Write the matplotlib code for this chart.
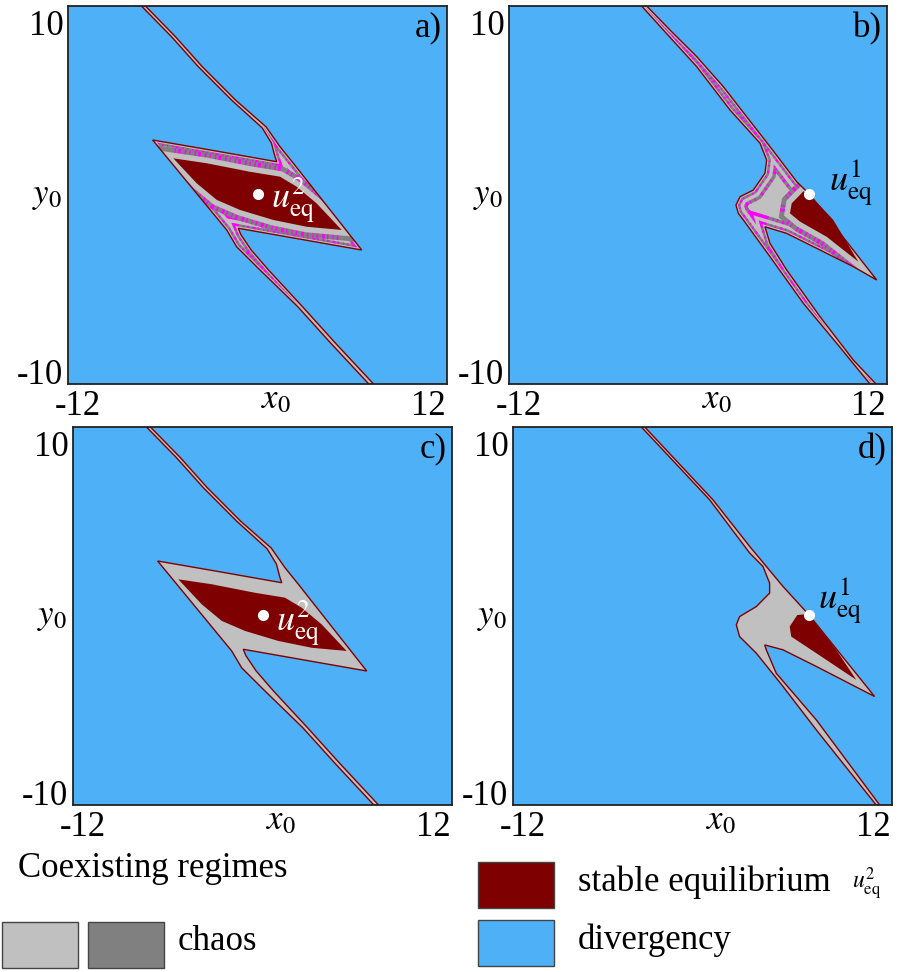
import numpy as np
import matplotlib
matplotlib.use('Agg')
import matplotlib.pyplot as plt
from matplotlib.patches import Polygon, Rectangle

plt.rcParams['font.family'] = 'Liberation Serif'
plt.rcParams['mathtext.fontset'] = 'stix'
plt.rcParams['lines.scale_dashes'] = False

BLUE = '#4EB1F7'
DRED = '#7F0000'
LGREY = '#C0C0C0'
DGREY = '#808080'
MAGENTA = '#FF00FF'

# basin of coexisting regimes around u_eq^2 (panels a and c), (x0, y0)
z_outer_x = [-6.64, -2.71, 1.22, 1.10, 0.88, 0.30, -1.65, -3.75, -5.45, -7.35,
             -7.10, -5.20, -3.50, -1.40, 0.55, 1.42, 2.27, 6.60, -1.22, -1.05,
             -0.40, 0.70, 2.85, 4.95, 7.35, 7.05, 4.65, 2.55, 0.16, -1.32, -1.95]
z_outer_y = [2.91, 2.34, 1.76, 2.05, 2.75, 3.55, 5.03, 6.79, 8.38, 10.0,
             10.0, 8.38, 6.79, 5.03, 3.60, 2.56, 1.68, -2.91, -1.76, -2.10,
             -2.91, -3.97, -5.91, -7.85, -10.0, -10.0, -7.85, -5.91, -3.97, -2.74, -1.85]
# basin of stable equilibrium u_eq^2
z_core_x = [-5.33, -3.22, -0.48, 1.42, 2.48, 3.74, 5.33, 3.11, 1.00, -1.11, -2.58, -3.85]
z_core_y = [1.94, 1.68, 1.23, 0.97, 0.44, -0.44, -1.85, -1.68, -1.32, -0.79, -0.26, 0.62]
eq2 = (0.0, 0.05)

# basin of coexisting regimes around u_eq^1 (panel b)
b_outer_x = [-3.58, -3.26, -1.78, -0.08, 1.61, 3.09, 4.57, 6.27, 7.07, 11.35,
             9.86, 7.75, 5.63, 4.25, 4.57, 5.63, 7.75, 9.86, 11.30, 10.92,
             8.81, 6.69, 4.57, 2.88, 2.56, 2.41, 2.67, 3.51, 4.25, 4.36,
             3.94, 2.03, -0.08, -2.20]
b_outer_y = [10.0, 10.0, 8.73, 7.32, 5.73, 4.14, 2.56, 0.70, 0.05, -4.50,
             -3.79, -2.91, -2.03, -1.68, -2.56, -3.97, -6.44, -8.73, -10.0, -10.0,
             -7.85, -5.73, -3.26, -1.32, -0.97, -0.53, -0.09, 0.26, 1.15, 1.85,
             2.74, 4.50, 6.79, 8.73]
b_core_x = [6.70, 5.95, 5.84, 6.48, 8.17, 10.18, 8.59, 7.22]
b_core_y = [0.20, -0.44, -0.97, -1.41, -2.21, -3.53, -1.32, -0.09]
eq1_b = (7.07, 0.05)

# panel d
d_outer_x = [-3.66, 0.66, 2.99, 5.10, 6.74, 10.90, 7.21, 5.10, 3.94, 4.04,
             4.67, 7.21, 11.22, 11.00, 7.21, 5.10, 3.41, 2.35, 2.14, 2.35,
             3.41, 4.25, 4.25, 3.83, 2.99, 0.45, -3.87]
d_outer_y = [10.0, 6.15, 3.68, 1.56, 0.06, -4.26, -2.67, -1.79, -1.53, -1.79,
             -3.03, -5.50, -10.0, -10.0, -6.03, -3.73, -1.97, -1.09, -0.47, -0.03,
             0.50, 1.21, 1.74, 2.62, 3.33, 6.15, 10.0]
d_core_x = [6.00, 5.52, 5.62, 7.21, 9.74, 8.47, 6.95, 6.60]
d_core_y = [0.05, -0.56, -1.09, -1.97, -3.38, -1.79, -0.15, 0.10]
eq1_d = (6.74, 0.06)

tags = ['a)', 'b)', 'c)', 'd)']
eq_labels = [r'$u^{2}_{\mathrm{eq}}$', r'$u^{1}_{\mathrm{eq}}$',
             r'$u^{2}_{\mathrm{eq}}$', r'$u^{1}_{\mathrm{eq}}$']

fig = plt.figure(figsize=(9.02, 9.72), dpi=100)
W, H = 902, 972

SPECKS = (0, (1.0, 1.6, 2.0, 2.8, 1.2, 2.2, 0.8, 3.0))

# clipped strokes that build up the grey / magenta stripes of the chaotic zone
outer_strokes = [(16, DGREY, '-'), (16, MAGENTA, SPECKS), (11, LGREY, '-'),
                 (6, DGREY, '-'), (6, MAGENTA, SPECKS), (2.5, LGREY, '-')]
core_strokes = [(15, DGREY, '-'), (15, MAGENTA, SPECKS), (8, LGREY, '-')]


def draw_panel(px_box, ox, oy, cx, cy, eq, tag, eq_label, lab_xy, lab_col, speckled):
    left, top, right, bottom = px_box
    ax = fig.add_axes([left / W, 1 - bottom / H, (right - left) / W, (bottom - top) / H])
    ax.set_xlim(-12, 12)
    ax.set_ylim(-10, 10)
    ax.set_facecolor(BLUE)
    ax.set_xticks([])
    ax.set_yticks([])
    for s in ax.spines.values():
        s.set_linewidth(1.3)
        s.set_color('#222222')
        s.set_zorder(10)

    outer_pts = np.column_stack([ox, oy])
    core_pts = np.column_stack([cx, cy])
    outer = Polygon(outer_pts, closed=True, fc=LGREY, ec='none', zorder=2)
    ax.add_patch(outer)

    if speckled:
        for pts, strokes in [(outer_pts, outer_strokes), (core_pts, core_strokes)]:
            for lw, col, ls in strokes:
                p = Polygon(pts, closed=True, fill=False, ec=col, lw=lw, ls=ls, zorder=3)
                ax.add_patch(p)
                p.set_clip_path(outer)

    ax.add_patch(Polygon(outer_pts, closed=True, fill=False, ec=DRED, lw=1.0, zorder=4))
    ax.add_patch(Polygon(core_pts, closed=True, fc=DRED, ec='none', zorder=5))
    ax.plot(eq[0], eq[1], 'o', color='white', ms=7, mec='white', zorder=6)
    ax.text(lab_xy[0], lab_xy[1], eq_label, color=lab_col, fontsize=26,
            ha='left', va='center', zorder=7)

    # panel tag and axis annotations
    ax.text(0.987, 0.985, tag, transform=ax.transAxes, fontsize=25,
            ha='right', va='top', zorder=11)
    ax.text(-0.012, 0.99, '10', transform=ax.transAxes, fontsize=25, ha='right', va='top')
    ax.text(-0.012, 0.0, '-10', transform=ax.transAxes, fontsize=25, ha='right', va='baseline')
    ax.text(-0.034, -0.082, '-12', transform=ax.transAxes, fontsize=25, ha='left', va='baseline')
    ax.text(0.997, -0.082, '12', transform=ax.transAxes, fontsize=25, ha='right', va='baseline')
    ax.text(0.51, -0.065, r'$x_0$', transform=ax.transAxes, fontsize=25, ha='left', va='baseline')
    ax.text(-0.015, 0.5, r'$y_0$', transform=ax.transAxes, fontsize=25, ha='right', va='center')
    return ax


draw_panel((68, 6, 447, 384), z_outer_x, z_outer_y, z_core_x, z_core_y, eq2,
           tags[0], eq_labels[0], (0.85, -0.3), 'white', True)
draw_panel((509, 6, 887, 384), b_outer_x, b_outer_y, b_core_x, b_core_y, eq1_b,
           tags[1], eq_labels[1], (8.3, 0.6), 'black', True)
draw_panel((73, 427, 452, 805), z_outer_x, z_outer_y, z_core_x, z_core_y, eq2,
           tags[2], eq_labels[2], (0.85, -0.4), 'white', False)
draw_panel((513, 427, 892, 805), d_outer_x, d_outer_y, d_core_x, d_core_y, eq1_d,
           tags[3], eq_labels[3], (7.3, 0.75), 'black', False)

# legend, laid out in figure pixels
lax = fig.add_axes([0, 0, 1, 1], zorder=-1)
lax.set_xlim(0, W)
lax.set_ylim(H, 0)
lax.axis('off')

legend_boxes = [(2, 922, LGREY), (88, 922, DGREY), (478, 862, DRED), (478, 920, BLUE)]
for x, y, col in legend_boxes:
    lax.add_patch(Rectangle((x, y), 76, 46, fc=col, ec='#444444', lw=1.0))

lax.text(18, 868, 'Coexisting regimes', fontsize=25, ha='left', va='center')
lax.text(178, 941, 'chaos', fontsize=25, ha='left', va='center')
lax.text(578, 882, 'stable equilibrium', fontsize=25, ha='left', va='center')
lax.text(852, 884, r'$u^{2}_{\mathrm{eq}}$', fontsize=17, ha='left', va='center')
lax.text(578, 940, 'divergency', fontsize=25, ha='left', va='center')

fig.savefig('out.png', dpi=100)
